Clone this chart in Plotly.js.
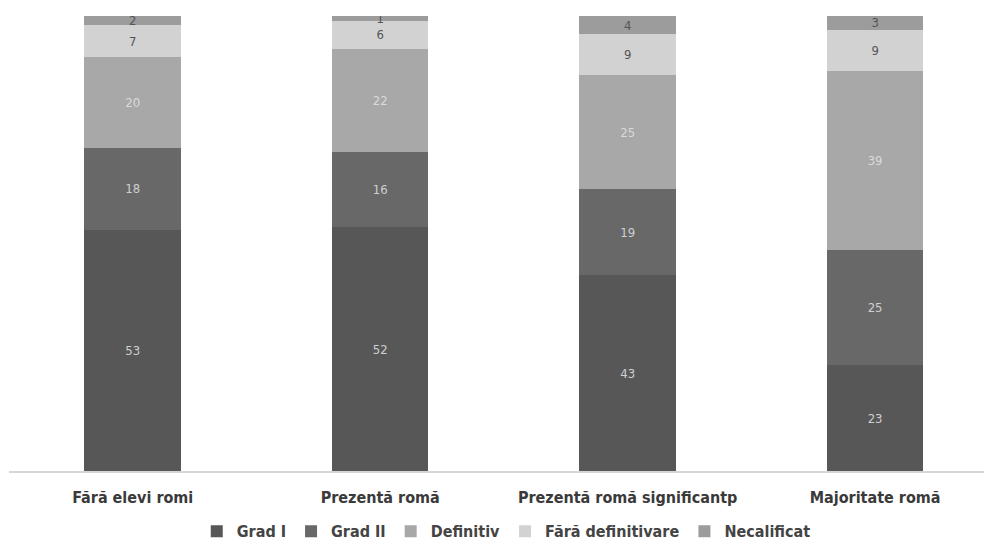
<!DOCTYPE html>
<html>
<head>
<meta charset="utf-8">
<script src="https://cdn.plot.ly/plotly-3.0.1.min.js"></script>
<style>html,body{margin:0;padding:0;background:#fff;}#chart{width:984px;height:556px;}</style>
</head>
<body>
<div id="chart"></div>
<script>
const categories = ["Fără elevi romi", "Prezentă romă", "Prezentă romă significantp", "Majoritate romă"];
const seriesNames = ["Grad I", "Grad II", "Definitiv", "Fără definitivare", "Necalificat"];
const gradI = [53, 52, 43, 23];
const gradII = [18, 16, 19, 25];
const definitiv = [20, 22, 25, 39];
const faraDef = [7, 6, 9, 9];
const necalificat = [2, 1, 4, 3];

const seriesValues = [gradI, gradII, definitiv, faraDef, necalificat];
const colors = ["#575757", "#686868", "#a8a8a8", "#d2d2d2", "#9c9c9c"];
const textColors = ["#cfcfcf", "#cfcfcf", "#dadada", "#555555", "#555555"];
const font = "'Liberation Sans Narrow', 'DejaVu Sans Condensed', 'Liberation Sans', sans-serif";

const traces = seriesNames.map((name, i) => ({
  type: "bar",
  name: name,
  x: categories,
  y: seriesValues[i],
  text: seriesValues[i].map(String),
  texttemplate: "%{text}",
  textposition: "inside",
  textangle: 0,
  insidetextanchor: "middle",
  constraintext: "none",
  textfont: {family: font, size: 13, color: textColors[i]},
  marker: {color: colors[i], line: {width: 0}},
  width: 0.39,
  hoverinfo: "skip"
}));

const layout = {
  width: 984,
  height: 556,
  barmode: "stack",
  barnorm: "percent",
  uniformtext: {mode: "show", minsize: 13},
  paper_bgcolor: "#ffffff",
  plot_bgcolor: "#ffffff",
  margin: {l: 9, r: 0, t: 16, b: 85},
  showlegend: true,
  legend: {
    orientation: "h",
    x: 0.51, xanchor: "center",
    y: -0.17, yanchor: "bottom",
    font: {family: font, size: 16, color: "#444444", weight: "bold"},
    itemwidth: 30,
    traceorder: "normal"
  },
  xaxis: {
    type: "category",
    range: [-0.5, 3.44],
    showgrid: false,
    showline: true,
    linecolor: "#d6d6d6",
    linewidth: 2,
    ticks: "",
    ticklabelstandoff: 11,
    tickfont: {family: font, size: 16, color: "#3a3a3a", weight: "bold"},
    fixedrange: true
  },
  yaxis: {
    range: [0, 100],
    visible: false,
    showgrid: false,
    zeroline: false,
    fixedrange: true
  },
  font: {family: font}
};

Plotly.newPlot("chart", traces, layout, {displayModeBar: false, staticPlot: true});
</script>
</body>
</html>
